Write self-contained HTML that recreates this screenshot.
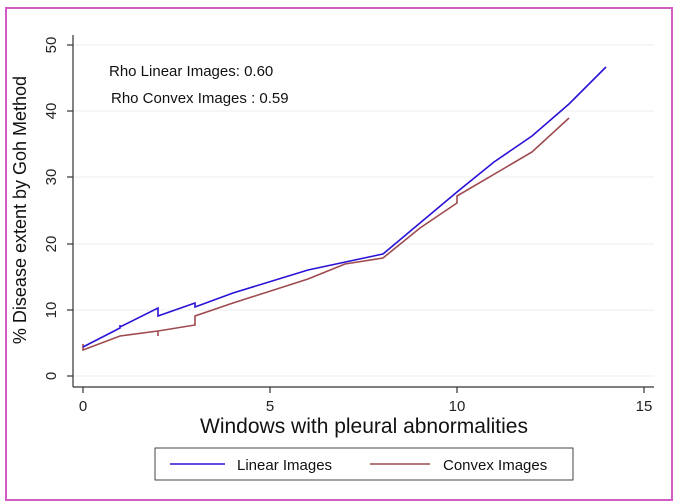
<!DOCTYPE html>
<html><head><style>body{margin:0;background:#fff}svg{display:block}</style></head><body>
<svg width="679" height="504" xmlns="http://www.w3.org/2000/svg" font-family="Liberation Sans, Arial, sans-serif">
<rect x="0" y="0" width="679" height="504" fill="#fff"/>
<rect x="6" y="8" width="666" height="492" fill="none" stroke="#d05cc4" stroke-width="2"/>
<g stroke="#e8edf2" stroke-width="1">
<line x1="73" y1="376" x2="654" y2="376"/><line x1="73" y1="310" x2="654" y2="310"/>
<line x1="73" y1="244" x2="654" y2="244"/><line x1="73" y1="177" x2="654" y2="177"/>
<line x1="73" y1="111" x2="654" y2="111"/><line x1="73" y1="45" x2="654" y2="45"/>
</g>
<g stroke="#333" stroke-width="1.2" fill="none">
<line x1="73" y1="35" x2="73" y2="387"/><line x1="73" y1="387" x2="654" y2="387"/>
<line x1="67" y1="376" x2="73" y2="376"/><line x1="67" y1="310" x2="73" y2="310"/><line x1="67" y1="244" x2="73" y2="244"/>
<line x1="67" y1="177" x2="73" y2="177"/><line x1="67" y1="111" x2="73" y2="111"/><line x1="67" y1="45" x2="73" y2="45"/>
<line x1="83" y1="387" x2="83" y2="393"/><line x1="270" y1="387" x2="270" y2="393"/><line x1="457" y1="387" x2="457" y2="393"/><line x1="644" y1="387" x2="644" y2="393"/>
</g>
<g font-size="15" fill="#222" text-anchor="middle">
<text x="83" y="411">0</text><text x="270" y="411">5</text><text x="457" y="411">10</text><text x="644" y="411">15</text>
<text transform="translate(56,376) rotate(-90)">0</text><text transform="translate(56,310) rotate(-90)">10</text>
<text transform="translate(56,244) rotate(-90)">20</text><text transform="translate(56,177) rotate(-90)">30</text>
<text transform="translate(56,111) rotate(-90)">40</text><text transform="translate(56,45) rotate(-90)">50</text>
</g>
<text x="364" y="433" font-size="21" text-anchor="middle" fill="#111">Windows with pleural abnormalities</text>
<text transform="translate(26,210) rotate(-90)" font-size="18" text-anchor="middle" fill="#111">% Disease extent by Goh Method</text>
<text x="109" y="76" font-size="15" fill="#111">Rho Linear Images: 0.60</text>
<text x="111" y="103" font-size="15" fill="#111">Rho Convex Images : 0.59</text>
<polyline fill="none" stroke="#9e4a4e" stroke-width="1.6" points="83,344 83,350 120,336 158,331 158,336 158,331 195,325 195,316 233,303 308,279 345,264 383,258 420,228 457,203 457,196 532,152 569,118"/>
<polyline fill="none" stroke="#2a12d6" stroke-width="1.6" points="83,347 120,328 120,325 120,327 158,308 158,316 195,303 195,307 233,293 308,270 383,254 420,223 457,192 494,162 532,136 569,104 606,67"/>
<rect x="155" y="448" width="418" height="32" fill="#fff" stroke="#444" stroke-width="1"/>
<line x1="170" y1="464" x2="225" y2="464" stroke="#2a12d6" stroke-width="1.6"/>
<line x1="370" y1="464" x2="430" y2="464" stroke="#9e4a4e" stroke-width="1.6"/>
<text x="237" y="470" font-size="15" fill="#111">Linear Images</text>
<text x="443" y="470" font-size="15" fill="#111">Convex Images</text>
</svg>
</body></html>
